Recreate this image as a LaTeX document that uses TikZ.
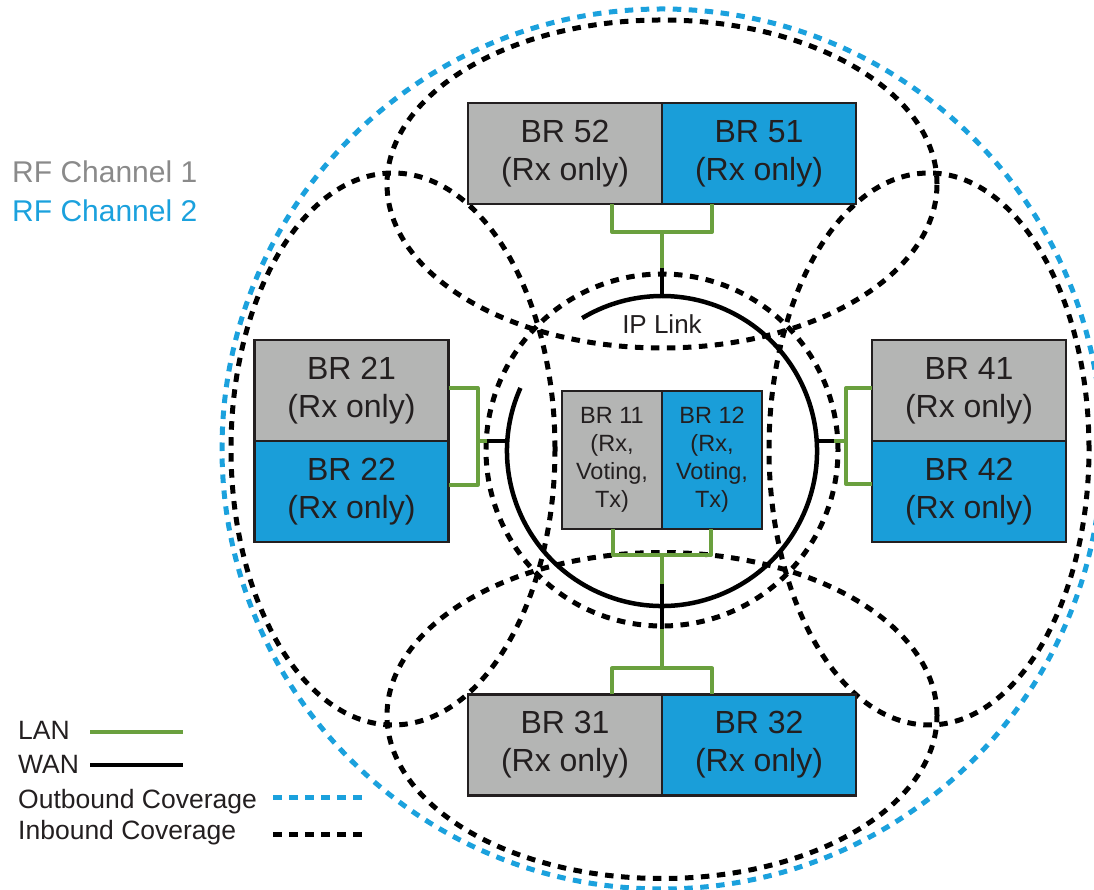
\documentclass[tikz,border=0pt]{standalone}
\usepackage{fontspec}
\setmainfont{Liberation Sans}
\usetikzlibrary{positioning,calc}
\definecolor{boxgray}{RGB}{180,181,180}
\definecolor{boxblue}{RGB}{26,158,217}
\definecolor{langreen}{RGB}{106,160,62}
\definecolor{txtdark}{RGB}{35,31,32}
\definecolor{chgray}{RGB}{138,138,138}
\definecolor{chblue}{RGB}{27,161,221}
\tikzset{
	br/.style = {rectangle, draw=txtdark, line width=2.4pt, outer sep=0pt, inner sep=0pt, minimum width=194pt, minimum height=101pt, align=center, text=txtdark, font=\fontsize{32}{38}\selectfont}, % repeater box
	chan1 box/.style = {br, fill=boxgray},
	chan2 box/.style = {br, fill=boxblue},
	hub box/.style = {minimum width=100pt, minimum height=138pt, font=\fontsize{23.5}{28}\selectfont}, % the voting site in the middle
	lan/.style = {draw=langreen, line width=4pt, line join=round},
	wan/.style = {draw=black, line width=4.5pt},
	inbound/.style = {draw=black, line width=5pt, dash pattern=on 8.5pt off 7.5pt},
	outbound/.style = {draw=chblue, line width=5pt, dash pattern=on 8.5pt off 7.5pt},
	legend/.style = {anchor=base west, inner sep=0pt, text=txtdark, font=\fontsize{26.5}{30}\selectfont}
}

\begin{document}
\begin{tikzpicture}[x=1pt, y=1pt]
	\useasboundingbox (0,0) rectangle (1094,890);
	% coverage areas
	\draw[outbound] (662,441) circle [radius=440pt];
	\draw[inbound] (662,706) ellipse [x radius=275pt, y radius=164pt];
	\draw[inbound] (662,174.5) ellipse [x radius=275pt, y radius=163pt];
	\draw[inbound] (393,441) ellipse [x radius=162pt, y radius=276pt];
	\draw[inbound] (929,441) ellipse [x radius=160pt, y radius=276pt];
	\draw[inbound] (662,440) circle [radius=176pt];
	% IP link ring
	\node[circle, minimum size=310pt, inner sep=0pt, outer sep=0pt] (ring) at (662,439) {};
	\draw[wan] (ring.156) arc [start angle=156, end angle=481, radius=155pt];
	\node[anchor=base, inner sep=0pt, text=txtdark, font=\fontsize{26}{30}\selectfont] (iplbl) at (662,556) {IP Link};
	% sites
	\node[chan1 box] (br52) at (565,736.5) {BR 52\\(Rx only)};
	\node[chan2 box, right=0pt of br52] (br51) {BR 51\\(Rx only)};
	\node[chan1 box] (br21) at (351.5,499.5) {BR 21\\(Rx only)};
	\node[chan2 box, below=0pt of br21] (br22) {BR 22\\(Rx only)};
	\node[chan1 box] (br41) at (969,499.5) {BR 41\\(Rx only)};
	\node[chan2 box, below=0pt of br41] (br42) {BR 42\\(Rx only)};
	\node[chan1 box] (br31) at (565,145) {BR 31\\(Rx only)};
	\node[chan2 box, right=0pt of br31] (br32) {BR 32\\(Rx only)};
	\node[chan1 box, hub box] (br11) at (612,430) {BR 11\\(Rx,\\Voting,\\Tx)};
	\node[chan2 box, hub box, right=0pt of br11] (br12) {BR 12\\(Rx,\\Voting,\\Tx)};
	% LAN brackets and WAN drops
	\coordinate (j5) at ([yshift=-28pt]br52.south east);
	\draw[lan] ([xshift=-50pt]br52.south east) |- (j5) -| ([xshift=50pt]br51.south west);
	\draw[lan] (j5) -- ++(0,-36) coordinate (w5);
	\draw[wan] (w5) -- (ring.north);
	\coordinate (j2) at ([xshift=29pt]br21.south east);
	\draw[lan] ([yshift=53pt]br21.south east) -| (j2) |- ([yshift=-44pt]br22.north east);
	\draw[lan] (j2) -- ++(9,0) coordinate (w2);
	\draw[wan] (w2) -- (w2 -| ring.west);
	\coordinate (j4) at ([xshift=-26pt]br41.south west);
	\draw[lan] ([yshift=53pt]br41.south west) -| (j4) |- ([yshift=-43pt]br42.north west);
	\draw[lan] (j4) -- ++(-12,0) coordinate (w4);
	\draw[wan] (w4) -- (w4 -| ring.east);
	\coordinate (j1) at ([yshift=-26pt]br11.south east);
	\draw[lan] ([xshift=-49pt]br11.south east) |- (j1) -| ([xshift=49pt]br12.south west);
	\coordinate (j3) at ([yshift=26pt]br31.north east);
	\draw[lan] ([xshift=-50pt]br31.north east) |- (j3) -| ([xshift=50pt]br32.north west);
	\draw[lan] (j1) -- (j3);
	\draw[wan] ([yshift=22pt]ring.south) -- ([yshift=-23pt]ring.south);
	% channel key
	\node[anchor=base west, inner sep=0pt, text=chgray, font=\fontsize{30}{34}\selectfont] (ch1) at (12,707) {RF Channel 1};
	\node[anchor=base west, inner sep=0pt, text=chblue, font=\fontsize{30}{34}\selectfont] (ch2) at (12,668) {RF Channel 2};
	% legend
	\node[legend] (lanlbl) at (18,150) {LAN};
	\node[legend] (wanlbl) at (18,116) {WAN};
	\node[legend] (outlbl) at (18,81) {Outbound Coverage};
	\node[legend] (inlbl) at (18,50) {Inbound Coverage};
	\draw[lan] (90,158) coordinate (lanA) -- (183,158) coordinate (lanB);
	\draw[wan, line width=4pt] (90,125) coordinate (wanA) -- (183,125) coordinate (wanB);
	\draw[outbound] (273,92) coordinate (outA) -- (363,92) coordinate (outB);
	\draw[inbound] (273,55) coordinate (inA) -- (363,55) coordinate (inB);
\end{tikzpicture}
\end{document}
